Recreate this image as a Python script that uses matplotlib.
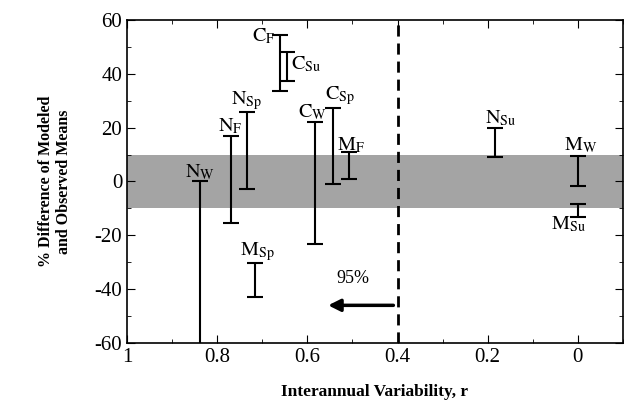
import matplotlib.pyplot as plt
from matplotlib.ticker import MultipleLocator
import numpy as np

plt.rc('font', family='Liberation Serif', size=14)
plt.rc('mathtext', fontset='stix')
plt.rc('axes', unicode_minus=False)

# range of % difference for each station/season
names = ['C_F', 'C_{Su}', 'N_{Sp}', 'N_F', 'N_W', 'C_W', 'C_{Sp}', 'M_F',
         'M_{Sp}', 'N_{Su}', 'M_W', 'M_{Su}']
r = np.array([0.66, 0.645, 0.735, 0.77, 0.838, 0.584, 0.544, 0.508,
              0.716, 0.184, 0.0, 0.0])
hi = np.array([54.2, 48.0, 25.6, 16.9, 0.0, 21.9, 27.2, 11.1,
               -30.2, 19.8, 9.5, -8.4])
lo = np.array([33.6, 37.4, -2.9, -15.5, -62.0, -23.3, -1.0, 0.8,
               -42.8, 9.0, -1.6, -13.1])

# label anchor points (x, y, ha)
lab_x = [0.672, 0.636, 0.735, 0.771, 0.838, 0.588, 0.527, 0.503,
         0.711, 0.17, -0.007, 0.02]
lab_y = [54.0, 43.5, 30.0, 20.5, 3.5, 25.5, 32.0, 13.5,
         -26.0, 23.5, 13.5, -16.0]
lab_ha = ['right', 'left', 'center', 'center', 'center', 'center',
          'center', 'center', 'center', 'center', 'center', 'center']

fig = plt.figure(figsize=(6.26, 4.05), dpi=100)
ax = fig.add_axes([0.203, 0.153, 0.792, 0.798])

ax.axhspan(-10, 10, color='#a4a4a4', lw=0, zorder=0)
ax.axvline(0.4, color='black', ls=(0, (4, 2.5)), lw=2)

mid = (hi + lo) / 2
err = (hi - lo) / 2
ax.errorbar(r, mid, yerr=err, fmt='none', ecolor='black', elinewidth=1.5,
            capsize=6, capthick=1.5)

for n, x, y, ha in zip(names, lab_x, lab_y, lab_ha):
    ax.text(x, y, r'$\mathrm{' + n + '}$', ha=ha, va='center', fontsize=14.5)

ax.annotate('', xy=(0.56, -46), xytext=(0.403, -46),
            arrowprops=dict(arrowstyle='-|>', color='black', lw=2.5,
                            mutation_scale=18))
ax.text(0.5, -36, '95%', ha='center', va='center', fontsize=13)

ax.set_xlim(1, -0.1)
ax.set_ylim(-60, 60)
ax.xaxis.set_minor_locator(MultipleLocator(0.1))
ax.yaxis.set_major_locator(MultipleLocator(20))
ax.yaxis.set_minor_locator(MultipleLocator(10))
ax.set_xticks([1, 0.8, 0.6, 0.4, 0.2, 0])
ax.set_xticklabels(['1', '0.8', '0.6', '0.4', '0.2', '0'])
ax.tick_params(which='both', direction='in', top=True, right=True)
ax.tick_params(which='major', length=6, labelsize=15)
ax.tick_params(which='minor', length=3)
for s in ax.spines.values():
    s.set_linewidth(1.2)

ax.set_xlabel('Interannual Variability, r', fontweight='bold', fontsize=12.5,
              labelpad=12)
ax.set_ylabel('% Difference of Modeled\nand Observed Means',
              fontweight='bold', fontsize=11.5, labelpad=16)

fig.savefig('out.png', dpi=100)
